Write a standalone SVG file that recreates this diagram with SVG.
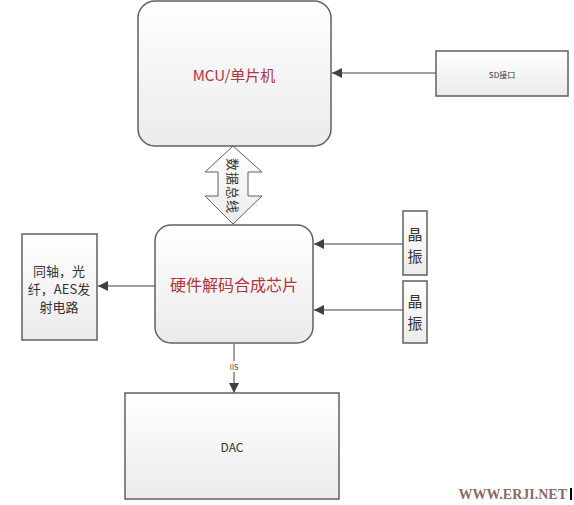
<svg xmlns="http://www.w3.org/2000/svg" width="574" height="505" viewBox="0 0 574 505">
<style>
.box{fill:url(#g);stroke:#606060;stroke-width:1.5}
.ln{stroke:#404040;stroke-width:1;fill:none;marker-end:url(#ah)}
.red{font-family:"Noto Sans CJK SC","Liberation Sans",sans-serif;fill:#b3343c;text-anchor:middle;dominant-baseline:central}
.blk{font-family:"Noto Sans CJK SC","Liberation Sans",sans-serif;fill:#333;text-anchor:middle;dominant-baseline:central}
</style>
<defs>
<linearGradient id="g" x1="0" y1="0" x2="0" y2="1">
<stop offset="0" stop-color="#ffffff"/>
<stop offset="1" stop-color="#ebebeb"/>
</linearGradient>
<marker id="ah" viewBox="0 0 10 10" refX="10" refY="5" markerWidth="10" markerHeight="10" markerUnits="userSpaceOnUse" orient="auto">
<path d="M0,0 L10,5 L0,10 z" fill="#404040"/>
</marker>
</defs>
<rect width="574" height="505" fill="#ffffff"/>
<g id="connectors">
<line class="ln" x1="437" y1="73" x2="332" y2="73"/>
<line class="ln" x1="403" y1="244" x2="314" y2="244"/>
<line class="ln" x1="403" y1="310" x2="314" y2="310"/>
<line class="ln" x1="155" y1="286" x2="98" y2="286"/>
<line class="ln" x1="234" y1="344" x2="234" y2="393"/>
<rect x="226" y="361" width="16" height="11" fill="#ffffff"/>
<text x="234" y="367" class="blk" font-size="7">IIS</text>
</g>
<g id="mcu">
<rect class="box" x="138" y="1" width="193" height="145" rx="17"/>
<text x="234" y="74" class="red" font-size="15">MCU/单片机</text>
</g>
<g id="sd">
<rect class="box" x="436" y="51" width="132" height="45"/>
<text x="502" y="74" class="blk" font-size="8">SD接口</text>
</g>
<g id="bus">
<path d="M233,146 L262,172 L248,172 L248,196 L262,196 L233,224 L205,196 L218,196 L218,172 L205,172 Z" fill="url(#g)" stroke="#606060" stroke-width="1"/>
<text x="233" y="186" class="blk" font-size="13" letter-spacing="1" transform="rotate(90 233 186)">数据总线</text>
</g>
<g id="decoder">
<rect class="box" x="155" y="225" width="158" height="118" rx="16"/>
<text x="234" y="284" class="red" font-size="16">硬件解码合成芯片</text>
</g>
<g id="xtal1">
<rect class="box" x="403" y="211" width="24" height="64"/>
<text x="415" y="233" class="blk" font-size="15">晶</text>
<text x="415" y="255" class="blk" font-size="15">振</text>
</g>
<g id="xtal2">
<rect class="box" x="403" y="281" width="24" height="62"/>
<text x="415" y="300" class="blk" font-size="15">晶</text>
<text x="415" y="322" class="blk" font-size="15">振</text>
</g>
<g id="tx">
<rect class="box" x="22" y="234" width="75" height="106"/>
<text x="59" y="270" class="blk" font-size="13">同轴，光</text>
<text x="59" y="288" class="blk" font-size="13">纤，AES发</text>
<text x="59" y="306" class="blk" font-size="13">射电路</text>
</g>
<g id="dac">
<rect class="box" x="125" y="393" width="214" height="106"/>
<text x="232" y="446" class="blk" font-size="12">DAC</text>
</g>
<text x="567" y="499" font-family="Liberation Serif, serif" font-weight="bold" font-size="14" fill="#8a6a5e" text-anchor="end">WWW.ERJI.NET</text>
<rect x="570" y="488" width="2" height="12" fill="#000"/>
</svg>
